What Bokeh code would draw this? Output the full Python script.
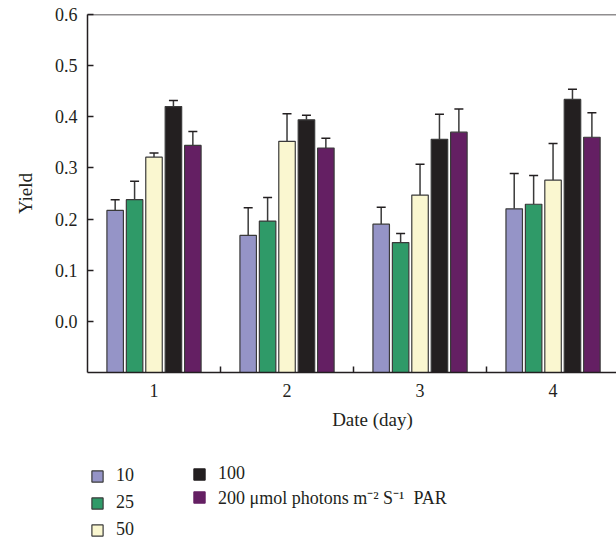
from bokeh.plotting import figure
from bokeh.layouts import column
from bokeh.models import (ColumnDataSource, Whisker, TeeHead, Legend, LegendItem, Span, Label,
                          FixedTicker, NumeralTickFormatter, Range1d)
from bokeh.transform import dodge
from bokeh.embed import file_html
from bokeh.resources import INLINE

days = [1, 2, 3, 4]
tick_labels = {1: "1", 2: "2", 3: "3", 4: "4"}
y_ticks = [0.0, 0.1, 0.2, 0.3, 0.4, 0.5, 0.6]

names = ["10", "25", "50", "100", "200 \u03bcmol photons m\u207b\u00b2 S\u207b\u00b9  PAR"]

s10 = [0.217, 0.168, 0.190, 0.220]
e10 = [0.021, 0.054, 0.033, 0.069]
s25 = [0.238, 0.196, 0.154, 0.229]
e25 = [0.036, 0.046, 0.018, 0.056]
s50 = [0.321, 0.352, 0.247, 0.276]
e50 = [0.008, 0.054, 0.060, 0.072]
s100 = [0.420, 0.394, 0.356, 0.434]
e100 = [0.012, 0.009, 0.049, 0.020]
s200 = [0.344, 0.339, 0.370, 0.360]
e200 = [0.027, 0.019, 0.045, 0.048]

series = [s10, s25, s50, s100, s200]
errors = [e10, e25, e50, e100, e200]
colors = ["#9594C7", "#2F9A68", "#FAF7D0", "#231F20", "#641F63"]
legend_outlines = ["#3A3A3A", "#3A3A3A", "#3A3A3A", "#231F20", "#641F63"]
outline = "#3A3A3A"
FONT = "Liberation Serif"
TXT = "#231F20"

W = 616
H1 = 405
H2 = 136
LEFT = 87

p = figure(width=W, height=H1, x_range=Range1d(0.5, 4.477), y_range=Range1d(-0.1, 0.6),
           output_backend="svg", toolbar_location=None,
           min_border_left=LEFT, min_border_right=0, min_border_top=14, min_border_bottom=H1 - 372)
p.outline_line_color = None
p.xgrid.visible = False
p.ygrid.visible = False

pitch = 0.146
offsets = [-2 * pitch, -pitch, 0.0, pitch, 2 * pitch]
for vals, errs, col, off in zip(series, errors, colors, offsets):
    src = ColumnDataSource(dict(day=days, top=vals,
                                upper=[v + e for v, e in zip(vals, errs)]))
    w = Whisker(base=dodge("day", off, range=p.x_range), upper="upper", lower="top", source=src,
                dimension="height", line_color="#3A3A3A", line_width=1.5,
                upper_head=TeeHead(size=9, line_color="#231F20", line_width=1.5), lower_head=None)
    p.add_layout(w)
    p.vbar(x=dodge("day", off, range=p.x_range), top="top", bottom=-0.1, width=0.124,
           source=src, fill_color=col, line_color=outline, line_width=1.2)

# axes
xa = p.xaxis[0]
xa.ticker = FixedTicker(ticks=days, minor_ticks=[1.5, 2.5, 3.5, 4.5])
xa.major_label_overrides = tick_labels
xa.major_tick_in = 0
xa.major_tick_out = 0
xa.minor_tick_in = 6
xa.minor_tick_out = 0
xa.minor_tick_line_color = TXT
xa.minor_tick_line_width = 1.5
xa.axis_line_color = TXT
xa.axis_line_width = 1.5
xa.major_label_text_font = FONT
xa.major_label_text_font_size = "18px"
xa.major_label_text_color = TXT
xa.major_label_standoff = 11

ya = p.yaxis[0]
ya.ticker = FixedTicker(ticks=y_ticks, minor_ticks=[])
ya.formatter = NumeralTickFormatter(format="0.0")
ya.major_tick_in = 6
ya.major_tick_out = 0
ya.major_tick_line_color = TXT
ya.major_tick_line_width = 1.5
ya.axis_line_color = TXT
ya.axis_line_width = 1.5
ya.major_label_text_font = FONT
ya.major_label_text_font_size = "18px"
ya.major_label_text_color = TXT
ya.major_label_standoff = 10
ya.axis_label = "Yield"
ya.axis_label_text_font = FONT
ya.axis_label_text_font_size = "19px"
ya.axis_label_text_font_style = "normal"
ya.axis_label_text_color = TXT
ya.axis_label_standoff = 16

p.add_layout(Span(location=0.6, dimension="width", line_color=TXT, line_width=1.5))

# lower panel: x-axis title and legend
p2 = figure(width=W, height=H2, x_range=Range1d(0, W), y_range=Range1d(0, H2),
            output_backend="svg", toolbar_location=None,
            min_border_left=0, min_border_right=0, min_border_top=0, min_border_bottom=0)
p2.axis.visible = False
p2.grid.visible = False
p2.outline_line_color = None

p2.add_layout(Label(x=372 - LEFT, y=H2 - 14, x_units="screen", y_units="screen", text="Date (day)",
                    text_align="center", text_baseline="middle", text_font=FONT,
                    text_font_size="19px", text_color=TXT))

dummies = []
for col, lc in zip(colors, legend_outlines):
    d = p2.vbar(x=[-100], top=[-100], bottom=-101, width=1, fill_color=col,
                line_color=lc, line_width=1.2)
    dummies.append(d)


def make_legend(items, loc, spacing):
    return Legend(items=items, location=loc, orientation="vertical",
                  glyph_width=14, glyph_height=14, label_height=14, spacing=spacing,
                  label_standoff=12, padding=0, margin=0,
                  border_line_color=None, background_fill_alpha=0,
                  label_text_font=FONT, label_text_font_size="18px", label_text_color=TXT)


leg1 = make_legend([LegendItem(label=names[i], renderers=[dummies[i]]) for i in range(3)],
                   (90 - LEFT, 1), 6)
leg2 = make_legend([LegendItem(label=names[i], renderers=[dummies[i]]) for i in range(3, 5)],
                   (192 - LEFT, 32), 1)
p2.add_layout(leg1, "center")
p2.add_layout(leg2, "center")

layout = column(p, p2, spacing=0)
open("out.html", "w").write(file_html(layout, INLINE))
